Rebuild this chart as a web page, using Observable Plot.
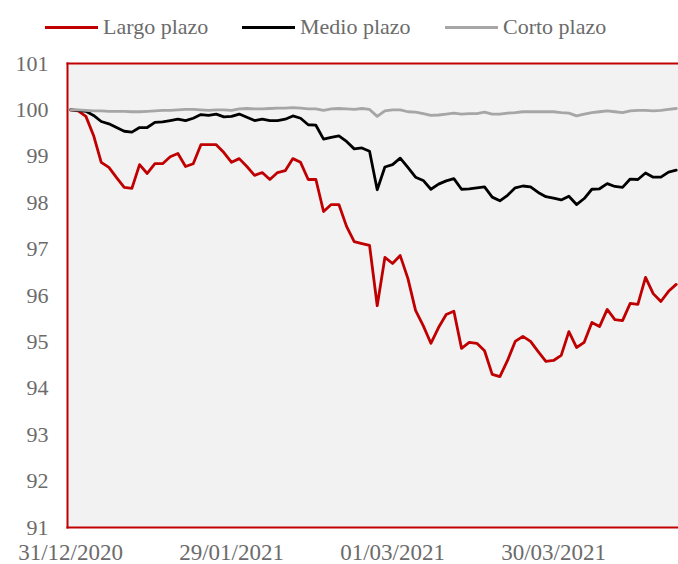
<!DOCTYPE html>
<html>
<head>
<meta charset="utf-8">
<script src="https://cdn.jsdelivr.net/npm/d3@7"></script>
<script src="https://cdn.jsdelivr.net/npm/@observablehq/plot@0.6"></script>
<style>
  html, body { margin: 0; padding: 0; background: #fff; }
  #wrap { width: 678px; height: 564px; overflow: hidden; font-family: "Liberation Serif", "DejaVu Serif", serif; }
  #legend { position: relative; height: 50px; width: 678px; }
  .item { position: absolute; top: 14px; display: flex; align-items: center; color: #6b6b6b; font-size: 22px; white-space: nowrap; }
  .sw { width: 53px; height: 3px; margin-right: 5px; }
</style>
</head>
<body>
<div id="wrap">
  <div id="legend"></div>
  <div id="chart"></div>
</div>
<script>
const seriesNames = ["Largo plazo", "Medio plazo", "Corto plazo"];
const seriesColors = ["#c00000", "#000000", "#a6a6a6"];

const tickLabels = ["31/12/2020", "29/01/2021", "01/03/2021", "30/03/2021"];
const tickIdx = [0, 21, 42, 63];
const yTicks = [91, 92, 93, 94, 95, 96, 97, 98, 99, 100, 101];

const largo = [
  100.00, 99.98, 99.86, 99.45, 98.87, 98.76, 98.54, 98.33, 98.31, 98.82,
  98.63, 98.84, 98.84, 98.99, 99.06, 98.78, 98.84, 99.25, 99.25, 99.25,
  99.08, 98.87, 98.95, 98.78, 98.59, 98.65, 98.50, 98.65, 98.69, 98.95,
  98.87, 98.50, 98.50, 97.81, 97.96, 97.96, 97.49, 97.16, 97.12, 97.08,
  95.78, 96.82, 96.69, 96.86, 96.37, 95.68, 95.35, 94.97, 95.31, 95.59,
  95.66, 94.86, 94.99, 94.97, 94.81, 94.30, 94.25, 94.60, 95.01, 95.12,
  95.01, 94.79, 94.58, 94.60, 94.71, 95.22, 94.88, 94.99, 95.42, 95.33,
  95.70, 95.48, 95.46, 95.83, 95.81, 96.39, 96.04, 95.87, 96.09, 96.24
];
const medio = [
  100.00, 99.99, 99.97, 99.88, 99.75, 99.70, 99.62, 99.54, 99.52, 99.62,
  99.62, 99.73, 99.74, 99.77, 99.80, 99.77, 99.82, 99.90, 99.88, 99.91,
  99.85, 99.86, 99.91, 99.84, 99.77, 99.80, 99.77, 99.77, 99.80, 99.87,
  99.82, 99.68, 99.67, 99.37, 99.41, 99.44, 99.32, 99.16, 99.18, 99.11,
  98.28, 98.77, 98.82, 98.96, 98.76, 98.55, 98.48, 98.29, 98.40, 98.47,
  98.52, 98.29, 98.30, 98.32, 98.34, 98.12, 98.04, 98.16, 98.32, 98.36,
  98.34, 98.22, 98.13, 98.10, 98.06, 98.14, 97.96, 98.09, 98.29, 98.30,
  98.41, 98.35, 98.33, 98.51, 98.50, 98.64, 98.55, 98.55, 98.66, 98.70
];
const corto = [
  100.00, 100.00, 99.99, 99.98, 99.98, 99.97, 99.97, 99.97, 99.96, 99.96,
  99.97, 99.98, 99.99, 99.99, 100.00, 100.01, 100.01, 100.00, 99.99, 100.00,
  100.00, 99.99, 100.02, 100.03, 100.02, 100.02, 100.03, 100.04, 100.04, 100.05,
  100.04, 100.02, 100.02, 99.99, 100.02, 100.03, 100.02, 100.01, 100.03, 100.01,
  99.86, 99.98, 100.00, 100.00, 99.96, 99.95, 99.92, 99.88, 99.89, 99.91,
  99.93, 99.91, 99.92, 99.92, 99.95, 99.91, 99.91, 99.93, 99.94, 99.96,
  99.96, 99.96, 99.96, 99.96, 99.94, 99.93, 99.87, 99.91, 99.94, 99.96,
  99.98, 99.96, 99.94, 99.98, 99.99, 99.99, 99.98, 99.99, 100.01, 100.03
];
const series = [largo, medio, corto];

// legend
const legendLeft = [45, 242, 445];
const legend = document.getElementById("legend");
seriesNames.forEach((name, k) => {
  const it = document.createElement("div");
  it.className = "item";
  it.style.left = legendLeft[k] + "px";
  const sw = document.createElement("span");
  sw.className = "sw";
  sw.style.background = seriesColors[k];
  const tx = document.createElement("span");
  tx.textContent = name;
  it.appendChild(sw);
  it.appendChild(tx);
  legend.appendChild(it);
});

const red = "#c00000";
const xMin = -0.4, xMax = 79.3;

const lineMarks = series.map((s, k) =>
  Plot.lineY(s, {x: (d, i) => i, y: d => d, stroke: seriesColors[k], strokeWidth: 2.8, curve: "linear"})
);

const chart = Plot.plot({
  width: 678,
  height: 514,
  marginTop: 13,
  marginBottom: 37,
  marginLeft: 67,
  marginRight: 0,
  style: {fontFamily: "'Liberation Serif', 'DejaVu Serif', serif", color: "#6b6b6b", background: "transparent"},
  x: {type: "linear", domain: [xMin, xMax]},
  y: {domain: [91, 101]},
  marks: [
    Plot.frame({fill: "#f2f2f2", stroke: null}),
    ...lineMarks,
    Plot.frame({anchor: "left", stroke: red, strokeWidth: 2}),
    Plot.frame({anchor: "top", stroke: red, strokeWidth: 2}),
    Plot.frame({anchor: "bottom", stroke: red, strokeWidth: 2}),
    Plot.axisY({ticks: yTicks, tickSize: 0, tickPadding: 19, fontSize: 22, label: null, tickFormat: d => String(d)}),
    Plot.axisX({ticks: tickIdx, tickSize: 0, tickPadding: 16, fontSize: 23, label: null,
      tickFormat: d => tickLabels[tickIdx.indexOf(d)]})
  ]
});
document.getElementById("chart").appendChild(chart);
</script>
</body>
</html>
